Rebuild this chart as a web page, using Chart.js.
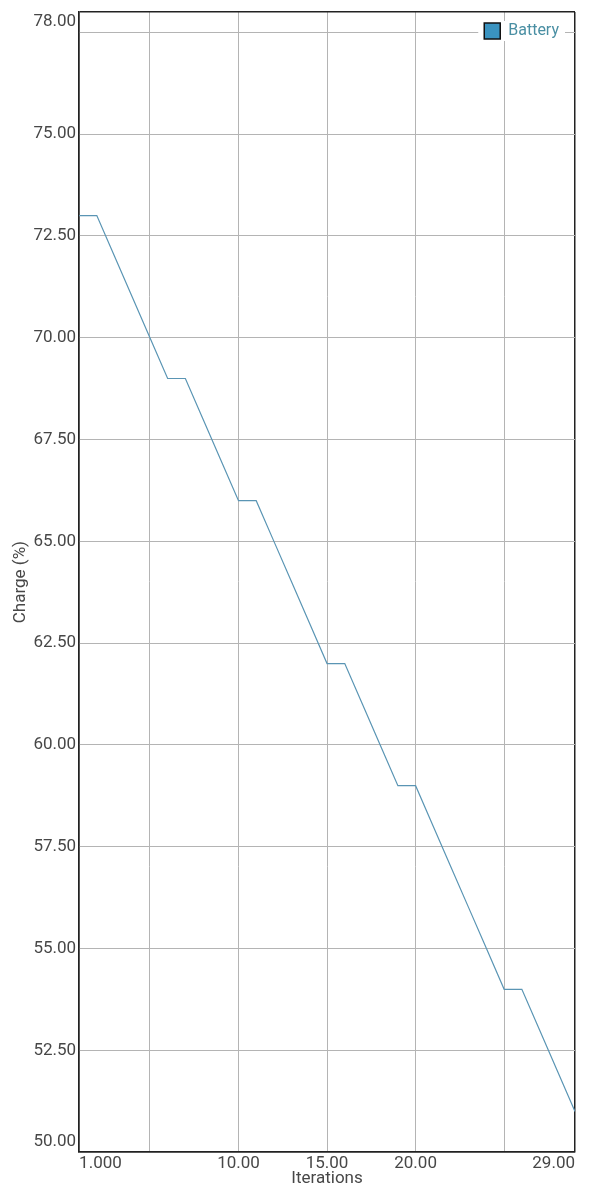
<!DOCTYPE html>
<html>
<head>
<meta charset="utf-8">
<script src="https://cdn.jsdelivr.net/npm/chart.js@4.4.1/dist/chart.umd.min.js"></script>
<style>
  html, body { margin: 0; padding: 0; background: #fff; }
  #wrap { width: 608px; height: 1200px; }
</style>
</head>
<body>
<div id="wrap"><canvas id="batteryChart" width="608" height="1200"></canvas></div>
<script>
// values
const iterations = [1, 2, 3, 4, 5, 6, 7, 8, 9, 10, 11, 12, 13, 14, 15, 16, 17, 18, 19, 20, 21, 22, 23, 24, 25, 26, 27, 28, 29];
const charge = [73, 73, 72, 71, 70, 69, 69, 68, 67, 66, 66, 65, 64, 63, 62, 62, 61, 60, 59, 59, 58, 57, 56, 55, 54, 54, 53, 52, 51];

const xTicks = [1, 5, 10, 15, 20, 25, 29];
const xTickLabels = ['1.000', '', '10.00', '15.00', '20.00', '', '29.00'];
const yTicks = [50, 52.5, 55, 57.5, 60, 62.5, 65, 67.5, 70, 72.5, 75, 77.5, 78];
const yTickLabels = ['50.00', '52.50', '55.00', '57.50', '60.00', '62.50', '65.00', '67.50', '70.00', '72.50', '75.00', '', '78.00'];

const lineColor = '#5a95b4';
const gridColor = '#b4b4b4';
const edgeColor = '#222222';
const textColor = '#474747';

// legend sits in the top right corner of the plot, on a white patch
const legendCorner = {
    id: 'legendCorner',
    afterUpdate(chart) {
        const legend = chart.legend;
        if (!legend) return;
        const area = chart.chartArea;
        legend.fit(); // fresh (relative) hit boxes
        legend.left = area.right - legend.width - 6;
        legend.right = legend.left + legend.width;
        legend.top = area.top + 1;
        legend.bottom = legend.top + legend.height;
        legend.adjustHitBoxes();
    },
    beforeDatasetsDraw(chart) {
        const legend = chart.legend;
        if (!legend || !legend.legendHitBoxes || !legend.legendHitBoxes.length) return;
        const ctx = chart.ctx;
        ctx.save();
        ctx.fillStyle = '#ffffff';
        legend.legendHitBoxes.forEach(b => {
            ctx.fillRect(b.left - 6, b.top - 2, b.width + 12, b.height + 4);
        });
        ctx.restore();
        legend.draw();
    }
};

document.addEventListener('DOMContentLoaded', function() {
    const ctx = document.getElementById('batteryChart').getContext('2d');

    new Chart(ctx, {
        type: 'line',
        data: {
            labels: iterations,
            datasets: [{
                label: 'Battery',
                data: iterations.map((x, i) => ({ x: x, y: charge[i] })),
                borderColor: lineColor,
                backgroundColor: '#3a93c0',
                borderWidth: 1.2,
                pointRadius: 0,
                tension: 0,
                fill: false
            }]
        },
        options: {
            responsive: false,
            animation: false,
            devicePixelRatio: 1,
            layout: {
                padding: { left: 4, right: 33, top: 12, bottom: 11 }
            },
            plugins: {
                legend: {
                    display: true,
                    position: 'chartArea',
                    align: 'start',
                    labels: {
                        color: '#4a8fa3',
                        font: { family: 'Roboto', size: 16 },
                        boxWidth: 16,
                        boxHeight: 16,
                        padding: 10,
                        generateLabels(chart) {
                            const items = Chart.defaults.plugins.legend.labels.generateLabels(chart);
                            items.forEach(it => {
                                it.fillStyle = '#3a93c0';
                                it.strokeStyle = '#111111';
                                it.lineWidth = 1.5;
                            });
                            return items;
                        }
                    }
                },
                tooltip: { enabled: false }
            },
            scales: {
                x: {
                    type: 'linear',
                    min: 1,
                    max: 29,
                    afterBuildTicks(scale) {
                        scale.ticks = xTicks.map(v => ({ value: v }));
                    },
                    ticks: {
                        autoSkip: false,
                        maxRotation: 0,
                        align: 'inner',
                        padding: 1,
                        color: textColor,
                        font: { family: 'Roboto', size: 17 },
                        callback: (value, index) => xTickLabels[index]
                    },
                    grid: {
                        color: c => (c.tick && (c.tick.value === 1 || c.tick.value === 29)) ? edgeColor : gridColor,
                        lineWidth: c => (c.tick && (c.tick.value === 1 || c.tick.value === 29)) ? 1.5 : 1,
                        drawTicks: false
                    },
                    border: { display: true, color: edgeColor, width: 1.5 },
                    title: {
                        display: true,
                        text: 'Iterations',
                        color: textColor,
                        font: { family: 'Roboto', size: 17 },
                        padding: { top: -6, bottom: 0 }
                    }
                },
                y: {
                    min: 50,
                    max: 78,
                    afterBuildTicks(scale) {
                        scale.ticks = yTicks.map(v => ({ value: v }));
                    },
                    afterFit(scale) {
                        scale.paddingTop = 0;
                    },
                    ticks: {
                        autoSkip: false,
                        padding: 3,
                        color: textColor,
                        font: { family: 'Roboto', size: 17 },
                        callback: function(value, index) {
                            const label = yTickLabels[index];
                            // edge labels sit inside the plot, as in the picture
                            if (index === 0) return [label, ''];
                            if (index === yTicks.length - 1) return ['', label];
                            return label;
                        }
                    },
                    grid: {
                        color: c => (c.tick && (c.tick.value === 50 || c.tick.value === 78)) ? edgeColor : gridColor,
                        lineWidth: c => (c.tick && (c.tick.value === 50 || c.tick.value === 78)) ? 1.5 : 1,
                        drawTicks: false
                    },
                    border: { display: true, color: edgeColor, width: 1.5 },
                    title: {
                        display: true,
                        text: 'Charge (%)',
                        color: textColor,
                        font: { family: 'Roboto', size: 17 },
                        padding: { top: 7, bottom: -1 }
                    }
                }
            }
        },
        plugins: [legendCorner]
    });
});
</script>
</body>
</html>
